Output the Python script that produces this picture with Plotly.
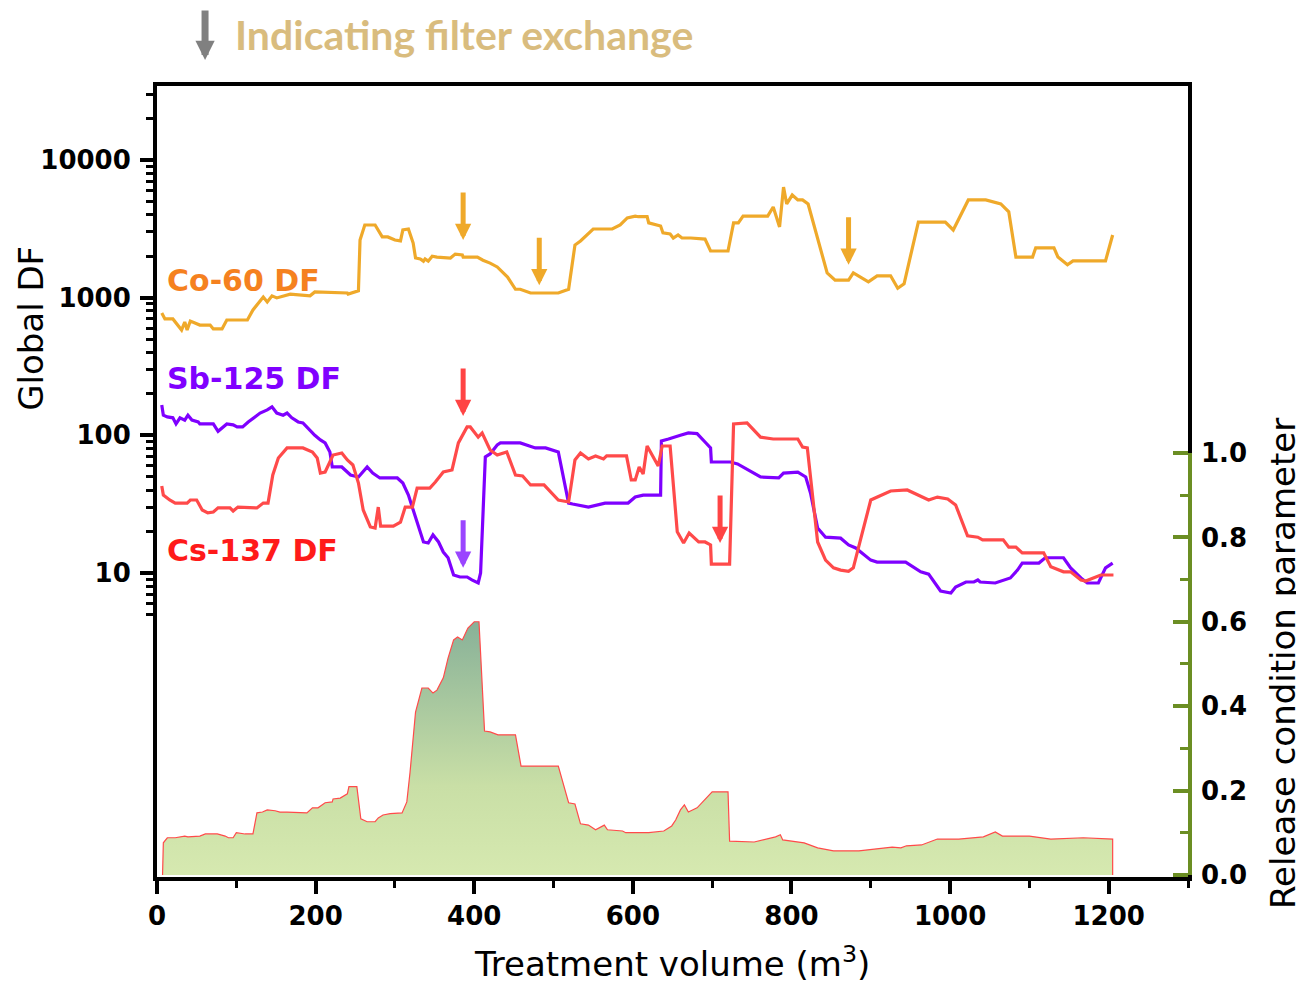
import numpy as np
import plotly.graph_objects as go

# ---------------- data ----------------
co_x = [6,10,20,31,35,38,42,54,67,71, 82,88,114,121,134,139,145,151,168,193,
        199,240,241,254,256,262,275,284,291,300, 307,310,317,323,326,332,336,338,342,347,
        353,370,376,385,386,404,411,420,429,442, 452,458,471,506,519,527,534,550,574,584,
        593,603,607,618,620,631,635,638,647,651, 657,662,673,691,698,720,727,733,739,770,
        777,785,790,794,801,808,814,821,828,837, 845,855,872,878,897,908,925,934,942,960,
        994,1004,1023,1045,1064,1074,1083,1104,1108,1131, 1136,1148,1155,1196,1205]
co_df = [773,700,700,582,665,582,676,632,632,592, 592,688,688,813,1010,930,1030,995,1060,1030,
         1100,1080,1060,1120,2620,3370,3370,2760,2760,2620, 2580,3100,3150,2490,1940,1910,1840,1910,1840,2000,
         1970,1940,2070,2040,1970,1970,1870,1780,1670,1410, 1150,1150,1080,1080,1150,2410,2580,3150,3150,3370,
         3790,3910,3870,3870,3490,3370,3310,2950,2900,2710, 2850,2710,2710,2660,2180,2180,3490,3490,3910,3910,
         4550,3260,6350,4790,5560,5120,5120,4790,3370,2220, 1510,1340,1340,1510,1300,1440,1440,1170,1260,3540,
         3540,3100,5120,5120,4800,4200,1970,1970,2300,2300, 1970,1730,1850,1850,2850]

sb_x = [6,8,13,20,24,29,35,39,44,52, 54,71,77,88,96,101,108,115,130,139,
        145,151,159,164,170,178,184,190,199,206, 212,218,221,233,244,254,265,272,281,303,
        310,317,323,329,336,342,348,355,361,367, 372,374,382,391,397,405,408,414,420,429,
        433,458,477,490,506,519,524,544,565,594, 603,613,635,636,645,654,660,670,681,691,
        698,699,723,732,744,761,784,790,808,818, 824,833,843,862,872,881,900,908,944,963,
        973,988,1001,1007,1020,1030,1035,1038,1057,1067, 1076,1085,1091,1112,1120,1143,1152,1165,1173,1187,
        1196,1205]
sb_df = [166,140,136,134,121,134,129,140,129,125, 121,121,107,121,119,115,115,125,145,153,
         161,145,140,145,134,125,123,113,100,92.5, 88,75.7,58.9,58.9,51.5,49.8,58.9,53.2,49,49,
         45,36.8,28.7,23.1,16.8,16.5,18.9,16.8,14.2,12.9, 10.5,9.67,9.35,9.35,8.9,8.46,10,69.6,73.2,85,
         88,88,81,81,75.7,32.2,31.7,30.1,32.2,32.2, 35.6,36.8,36.8,91,94,97,100,104,103,89.4,
         81,64,64,62,56.9,49.8,49,53.2,54.1,49.8, 38.1,21.2,18.2,17.9,16,15.2,12.4,12,12,10.2,
         9.8,7.4,7.16,7.9,8.6,8.6,8.9,8.6,8.46,8.9, 9.2,10.5,11.8,11.8,12.9,12.9,10.9,9.2,8.46,8.46,
         10.9,11.8]

cs_x = [6,8,16,23,38,42,50,57,64,71, 77,92,96,102,126,134,140,146,153,164,
        184,196,202,206,212,222,233,240,247,254, 260,269,275,279,282,298,307,313,322,328,
        344,351,361,372,380,391,395,401,405,410, 420,429,437,441,452,461,471,488,506,519,
        527,534,544,553,563,567,592,598,603,608, 613,618,632,637,647,656,664,671,683,691,
        698,699,722,727,744,761,777,808,814,820, 833,843,853,862,872,878,887,900,925,946,
        973,984,997,1007,1022,1035,1041,1067,1074,1083, 1091,1118,1127,1143,1152,1165,1171,1190,1206]
cs_df = [42.9,36.8,33.9,32.2,32.2,33.9,33.9,28.7,27.3,27.7, 29.7,29.7,28.2,30.1,29.7,32.2,32.2,51.5,68.4,81,
         81,75.7,68.4,53.2,54.1,71.9,74.4,66.2,60.9,45, 28.7,21.6,21.2,30.1,21.9,21.9,23.4,30.1,30.1,41.4,
         41.4,45.8,54.1,56,88,115,115,104,97,104, 78.2,71.9,74.4,75.7,51.5,50.6,43.6,43.6,33.9,32.8,
         66.2,74.4,67.3,70.8,67.3,70.8,70.8,47.4,47.4,58.9, 52.3,83.6,59.8,83.6,83.6,19.9,16.5,19.5,16.8,16.8,
         16,11.6,11.6,121,123,97,94,94,82.2,81, 16.8,12.4,10.9,10.5,10.3,10.9,17.4,33.9,39.4,40.1,
         33.9,35.6,34.5,31.2,18.6,18.2,17.4,17.4,15.4,15.4, 14,14,11.1,10.2,10.2,8.9,8.75,9.67,9.67]

rel_x = [7,8,13,23,35,39,54,61,76,86, 90,96,100,111,121,126,133,139,149,155,
         164,189,196,203,212,221,222,231,240,242, 252,257,265,275,279,285,294,309,315,319,
         326,329,334,342,348,353,361,367,374,379, 385,392,400,406,413,420,430,452,459,506,
         519,527,534,544,553,564,568,587,591,620, 639,649,654,660,665,670,681,700,720,722,
         753,780,786,789,816,833,853,885,906,927, 938,945,964,984,1011,1042,1057,1066,1100,1127,
         1168,1205,1205]
rel_param = [0,0.076,0.088,0.088,0.092,0.09,0.092,0.097,0.097,0.092, 0.088,0.088,0.1,0.097,0.097,0.147,0.149,0.154,0.152,0.149,
             0.149,0.147,0.159,0.159,0.171,0.173,0.18,0.182,0.192,0.209, 0.209,0.133,0.126,0.126,0.135,0.142,0.145,0.147,0.173,0.242,
             0.386,0.408,0.443,0.443,0.431,0.438,0.467,0.514,0.557,0.564, 0.557,0.585,0.6,0.6,0.341,0.339,0.332,0.332,0.258,0.258,
             0.171,0.168,0.121,0.118,0.107,0.118,0.107,0.104,0.1,0.1, 0.104,0.116,0.13,0.154,0.166,0.149,0.159,0.197,0.197,0.08,
             0.078,0.09,0.095,0.083,0.076,0.064,0.057,0.057,0.062,0.066, 0.064,0.069,0.071,0.085,0.085,0.09,0.102,0.092,0.092,0.085,
             0.088,0.085,0]

# filter exchange arrows (treatment volume, DF at arrow tip)
co_arrow_x = [386, 482, 872]
co_arrow_df = [2620, 1230, 1730]
cs_arrow_x = [386, 710]
cs_arrow_df = [138, 16.5]
sb_arrow_x = [386]
sb_arrow_df = [10.9]

x_ticks = [0, 200, 400, 600, 800, 1000, 1200]
x_minor = [100, 300, 500, 700, 900, 1100, 1300]
df_ticks = [10, 100, 1000, 10000]
df_ticktext = ["10", "100", "1000", "10000"]
df_minor = [5, 6, 7, 8, 9, 20, 30, 40, 50, 60, 70, 80, 90, 200, 300, 400, 500, 600, 700, 800, 900,
            2000, 3000, 4000, 5000, 6000, 7000, 8000, 9000, 20000, 30000]
rel_ticks = [0.0, 0.2, 0.4, 0.6, 0.8, 1.0]
rel_ticktext = ["0.0", "0.2", "0.4", "0.6", "0.8", "1.0"]
rel_minor = [0.1, 0.3, 0.5, 0.7, 0.9]

# ---------------- style ----------------
CO_LINE = "#EFA92A"
SB_LINE = "#7F00FF"
CS_LINE = "#FF4A4A"
GREEN = "#6B8E23"
TICKFONT = dict(family="DejaVu Sans", size=26, color="black", weight="bold")
TITLEFONT = dict(family="DejaVu Sans", size=34, color="black")

fig = go.Figure()

fig.add_trace(go.Scatter(
    x=rel_x, y=rel_param, yaxis="y2", mode="lines",
    line=dict(color="#FF4A4A", width=1.2),
    fill="tozeroy",
    fillgradient=dict(type="vertical",
                      colorscale=[[0, "#D6E9B0"], [0.35, "#C9DFA6"], [1, "#88B198"]]),
    hoverinfo="skip"))

fig.add_trace(go.Scatter(x=co_x, y=co_df, mode="lines", line=dict(color=CO_LINE, width=3.2)))
fig.add_trace(go.Scatter(x=sb_x, y=sb_df, mode="lines", line=dict(color=SB_LINE, width=3.2)))
fig.add_trace(go.Scatter(x=cs_x, y=cs_df, mode="lines", line=dict(color=CS_LINE, width=3.2)))

# page body has an 8px margin, so the figure is 8px smaller than the window
fig.update_layout(
    width=1296, height=977,
    margin=dict(l=149, r=116, t=78, b=108),
    plot_bgcolor="white", paper_bgcolor="white",
    showlegend=False,
    xaxis=dict(
        range=[0, 1300], tickvals=x_ticks, ticks="outside", ticklen=13, tickwidth=4,
        tickcolor="black", showline=True, linewidth=4, linecolor="black", mirror=True,
        showgrid=False, zeroline=False, tickfont=TICKFONT,
        minor=dict(tickvals=x_minor, ticks="outside", ticklen=7, tickwidth=3, tickcolor="black"),
    ),
    yaxis=dict(
        type="log", range=[-1.208, 4.537], tickvals=df_ticks, ticktext=df_ticktext,
        ticks="outside", ticklen=13, tickwidth=4, tickcolor="black",
        showline=True, linewidth=4, linecolor="black", mirror=True,
        showgrid=False, zeroline=False, tickfont=TICKFONT, ticklabelstandoff=4,
        minor=dict(tickvals=df_minor, ticks="outside", ticklen=7, tickwidth=3, tickcolor="black"),
    ),
    yaxis2=dict(
        overlaying="y", side="right", range=[-0.005, 1.870],
        tickvals=rel_ticks, ticktext=rel_ticktext,
        ticks="inside", ticklen=15, tickwidth=4, tickcolor=GREEN,
        showline=False, showgrid=False, zeroline=False, tickfont=TICKFONT,
        ticklabelstandoff=12,
        minor=dict(tickvals=rel_minor, ticks="inside", ticklen=8, tickwidth=3, tickcolor=GREEN),
    ),
)

# green segment of the right axis (0 to 1)
fig.add_shape(type="line", xref="paper", yref="y2", xsizemode="pixel", xanchor=1,
              x0=2, x1=2, y0=0, y1=1.0, line=dict(color=GREEN, width=4), layer="above")

# filter exchange arrows
def add_arrows(xs, dfs, color):
    for xv, dv in zip(xs, dfs):
        fig.add_annotation(x=xv, y=np.log10(dv), xref="x", yref="y", text="",
                           showarrow=True, ax=0, ay=-49, arrowhead=2, arrowsize=0.65,
                           arrowwidth=5, arrowcolor=color)

add_arrows(co_arrow_x, co_arrow_df, "#EFA92A")
add_arrows(cs_arrow_x, cs_arrow_df, "#FF4444")
add_arrows(sb_arrow_x, sb_arrow_df, "#9A45FF")

# series labels
LABFONT = dict(family="DejaVu Sans", size=30, weight="bold")
for txt, col, yp in [("Co-60 DF", "#F5811F", 0.7535), ("Sb-125 DF", "#8000FF", 0.6296),
                     ("Cs-137 DF", "#FF1A1A", 0.4134)]:
    fig.add_annotation(x=0.0078, y=yp, xref="paper", yref="paper", text=txt, showarrow=False,
                       xanchor="left", yanchor="middle", font=dict(LABFONT, color=col))

# legend (top)
fig.add_annotation(x=0.0466, y=1.0329, xref="paper", yref="paper", text="", showarrow=True,
                   ax=0, ay=-51, arrowhead=2, arrowsize=0.55, arrowwidth=7, arrowcolor="#808080")
fig.add_annotation(x=0.0737, y=1.065, xref="paper", yref="paper", text="Indicating filter exchange",
                   showarrow=False, xanchor="left", yanchor="middle",
                   font=dict(family="Lato", size=41, weight="bold", color="#D9BC7E"))

# axis titles
fig.add_annotation(x=-0.1222, y=0.693, xref="paper", yref="paper", text="Global DF",
                   textangle=-90, showarrow=False, xanchor="center", yanchor="middle", font=TITLEFONT)
fig.add_annotation(x=0.4995, y=-0.108, xref="paper", yref="paper", text="Treatment volume (m<sup>3</sup>)",
                   showarrow=False, xanchor="center", yanchor="middle", font=TITLEFONT)
fig.add_annotation(x=1.0921, y=0.2705, xref="paper", yref="paper", text="Release condition parameter",
                   textangle=-90, showarrow=False, xanchor="center", yanchor="middle", font=TITLEFONT)

fig.write_html("out.html")
